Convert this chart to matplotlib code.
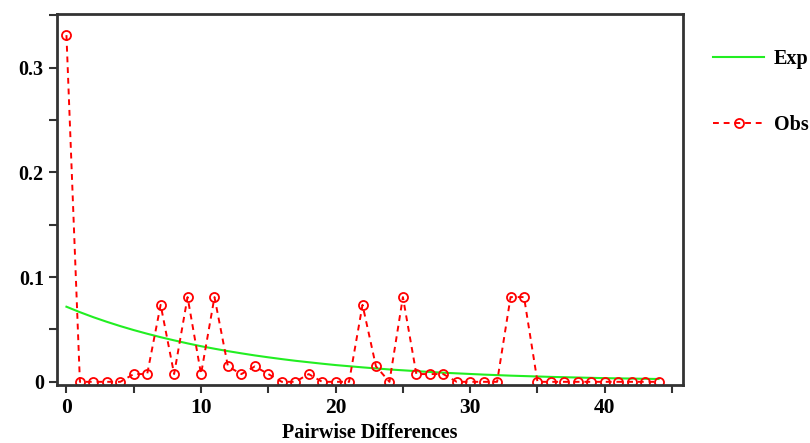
import matplotlib
matplotlib.use('Agg')
import matplotlib.pyplot as plt
from matplotlib.ticker import MultipleLocator, FuncFormatter

# mismatch distribution values
diffs = list(range(45))
obs = [0.331, 0, 0, 0, 0, 0.0074, 0.0074, 0.0735, 0.0074, 0.0809,
       0.0074, 0.0809, 0.0147, 0.0074, 0.0147, 0.0074, 0, 0, 0.0074, 0,
       0, 0, 0.0735, 0.0147, 0, 0.0809, 0.0074, 0.0074, 0.0074, 0,
       0, 0, 0, 0.0809, 0.0809, 0, 0, 0, 0, 0,
       0, 0, 0, 0, 0]
exp = [0.0717, 0.0665, 0.0617, 0.0573, 0.0532, 0.0494, 0.0459, 0.0426, 0.0396, 0.0367,
       0.0340, 0.0316, 0.0293, 0.0272, 0.0252, 0.0234, 0.0217, 0.0201, 0.0187, 0.0173,
       0.0160, 0.0149, 0.0138, 0.0128, 0.0118, 0.0110, 0.0102, 0.0094, 0.0087, 0.0081,
       0.0075, 0.0069, 0.0064, 0.0059, 0.0055, 0.0051, 0.0047, 0.0044, 0.0041, 0.0038,
       0.0035, 0.0033, 0.0031, 0.0029, 0.0027]

plt.rcParams['font.family'] = ['Liberation Serif', 'DejaVu Serif']
plt.rcParams['font.weight'] = 'bold'

fig = plt.figure(figsize=(8.1, 4.43), dpi=100)
ax = fig.add_axes([0.0704, 0.131, 0.7726, 0.837])

ax.plot(diffs, exp, color='#22ee22', lw=1.5, label='Exp')
ax.plot(diffs, obs, color='red', ls=(0, (3, 2.5)), lw=1.4, marker='o', ms=6.5,
        mfc='none', mec='red', mew=1.3, label='Obs')

ax.set_xlim(-0.7, 45.8)
ax.set_ylim(-0.003, 0.351)
ax.xaxis.set_major_locator(MultipleLocator(5))
ax.yaxis.set_major_locator(MultipleLocator(0.05))
ax.xaxis.set_major_formatter(FuncFormatter(lambda v, p: '%d' % v if round(v) % 10 == 0 else ''))
ax.yaxis.set_major_formatter(FuncFormatter(
    lambda v, p: ('0' if abs(v) < 1e-9 else '%.1f' % v) if round(v * 100) % 10 == 0 else ''))

for s in ax.spines.values():
    s.set_linewidth(2)
    s.set_color('#333333')
ax.tick_params(direction='out', length=6, width=1.5, color='#333333')
ax.tick_params(axis='x', labelsize=15.5)
ax.tick_params(axis='y', labelsize=14.5)
ax.set_xlabel('Pairwise Differences', fontsize=14.5, fontweight='bold', labelpad=3.5)

leg = ax.legend(loc='upper left', bbox_to_anchor=(1.02, 0.955), frameon=False,
                fontsize=14.5, handlelength=2.5, labelspacing=2.3, handletextpad=0.5)

fig.savefig('out.png', dpi=100)
